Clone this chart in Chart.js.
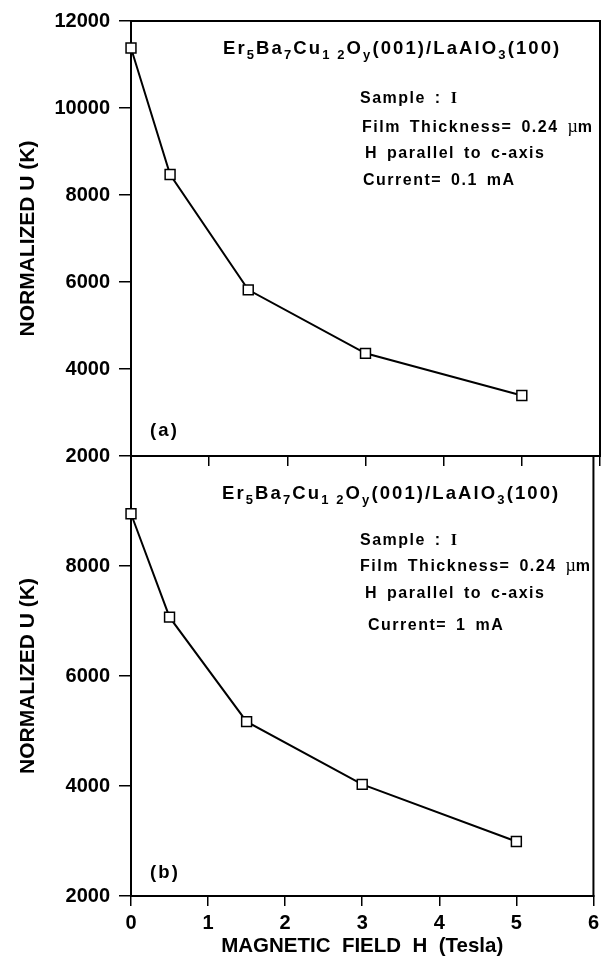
<!DOCTYPE html>
<html>
<head>
<meta charset="utf-8">
<script src="https://cdn.jsdelivr.net/npm/chart.js@4/dist/chart.umd.min.js"></script>
<style>
  body { margin: 0; background: #fff; }
  #wrap { position: relative; width: 604px; height: 964px; }
  canvas { position: absolute; left: 0; top: 0; }
  .note { position: absolute; font-family: "Liberation Sans", Arial, sans-serif; font-weight: bold;
          color: #000; white-space: nowrap; line-height: 20px; }
  .ttl { font-size: 18.5px; letter-spacing: 2.1px; }
  .ttl sub { font-size: 13px; vertical-align: -5px; line-height: 0; }
  .info { font-size: 16px; letter-spacing: 1.5px; word-spacing: 3px; }
  .serif { font-family: "Liberation Serif", serif; }
  .mu { font-family: "Liberation Serif", serif; font-weight: normal; font-size: 18px; letter-spacing: 0; }
</style>
</head>
<body>
<div id="wrap">
  <canvas id="top" width="604" height="964"></canvas>
  <canvas id="bottom" width="604" height="964"></canvas>

  <div class="note ttl" style="left:223px;top:38px">Er<sub>5</sub>Ba<sub>7</sub>Cu<sub>1 2</sub>O<sub>y</sub>(001)/LaAlO<sub>3</sub>(100)</div>
  <div class="note info" style="left:360px;top:88px">Sample : <span class="serif">I</span></div>
  <div class="note info" style="left:362px;top:116px">Film Thickness= 0.24 <span class="mu">µ</span>m</div>
  <div class="note info" style="left:365px;top:143px">H parallel to c-axis</div>
  <div class="note info" style="left:363px;top:170px">Current= 0.1 mA</div>
  <div class="note ttl" style="left:150px;top:420px">(a)</div>

  <div class="note ttl" style="left:222px;top:483px">Er<sub>5</sub>Ba<sub>7</sub>Cu<sub>1 2</sub>O<sub>y</sub>(001)/LaAlO<sub>3</sub>(100)</div>
  <div class="note info" style="left:360px;top:530px">Sample : <span class="serif">I</span></div>
  <div class="note info" style="left:360px;top:555px">Film Thickness= 0.24 <span class="mu">µ</span>m</div>
  <div class="note info" style="left:365px;top:583px">H parallel to c-axis</div>
  <div class="note info" style="left:368px;top:615px">Current= 1 mA</div>
  <div class="note ttl" style="left:150px;top:862px">(b)</div>
</div>

<script>
// magnetic field (Tesla) and normalized U (K)
const fieldH = [0, 0.5, 1.5, 3, 5];
const uCurrent01 = [11380, 8470, 5820, 4360, 3390];   // panel (a), 0.1 mA
const uCurrent1 = [8950, 7070, 5170, 4030, 2990];     // panel (b), 1 mA

const xTicks = [0, 1, 2, 3, 4, 5, 6];
const yTicksTop = [2000, 4000, 6000, 8000, 10000, 12000];
const yTicksBottom = [2000, 4000, 6000, 8000];

const FONT = '"Liberation Sans", Arial, sans-serif';

// draws the closed frame around each panel
const framePlugin = {
  id: 'frame',
  beforeDatasetsDraw(chart) {
    const a = chart.chartArea;
    const ctx = chart.ctx;
    ctx.save();
    ctx.strokeStyle = '#000';
    ctx.lineWidth = 2;
    ctx.strokeRect(a.left, a.top, a.right - a.left, a.bottom - a.top);
    ctx.restore();
  }
};

function makePanel(id, values, yMin, yMax, yLabels, isBottom) {
  const points = fieldH.map((h, i) => ({ x: h, y: values[i] }));
  return new Chart(document.getElementById(id), {
    type: 'line',
    data: {
      datasets: [{
        data: points,
        borderColor: '#000',
        borderWidth: 2,
        tension: 0,
        pointStyle: 'rect',
        pointRadius: 7,
        pointHoverRadius: 7,
        pointBackgroundColor: '#fff',
        pointBorderColor: '#000',
        pointBorderWidth: 1.5,
        clip: false
      }]
    },
    options: {
      responsive: false,
      animation: false,
      devicePixelRatio: 1,
      layout: { autoPadding: false, padding: { top: isBottom ? 456 : 17, right: 4, left: 0, bottom: 0 } },
      plugins: { legend: { display: false }, tooltip: { enabled: false } },
      scales: {
        x: {
          type: 'linear',
          min: 0, max: 6,
          afterBuildTicks(s) { s.ticks = xTicks.map(v => ({ value: v })); },
          afterFit(s) { s.height = isBottom ? 964 - 896 : 964 - 456; },
          grid: { drawOnChartArea: false, color: '#000', lineWidth: 1.5, tickLength: 10 },
          border: { display: true, color: '#000', width: 2 },
          ticks: {
            display: isBottom,
            color: '#000',
            padding: 5,
            callback: v => String(v),
            font: { family: FONT, size: 20, weight: 'bold' }
          },
          title: {
            display: isBottom,
            text: 'MAGNETIC  FIELD  H  (Tesla)',
            color: '#000',
            font: { family: FONT, size: 20.5, weight: 'bold' },
            padding: { top: 0, bottom: 5 }
          }
        },
        y: {
          min: yMin, max: yMax,
          afterBuildTicks(s) { s.ticks = yLabels.map(v => ({ value: v })); },
          afterFit(s) { s.width = 131; },
          grid: { drawOnChartArea: false, color: '#000', lineWidth: 1.5, tickLength: 12 },
          border: { display: true, color: '#000', width: 2 },
          ticks: {
            color: '#000',
            padding: 9,
            callback: v => String(v),
            font: { family: FONT, size: 20, weight: 'bold' }
          },
          title: {
            display: true,
            text: 'NORMALIZED U (K)',
            color: '#000',
            font: { family: FONT, size: 21, weight: 'bold' },
            padding: { top: 16, bottom: 0 }
          }
        }
      }
    },
    plugins: [framePlugin]
  });
}

makePanel('top', uCurrent01, 2000, 12000, yTicksTop, false);
makePanel('bottom', uCurrent1, 2000, 10000, yTicksBottom, true);
</script>
</body>
</html>
